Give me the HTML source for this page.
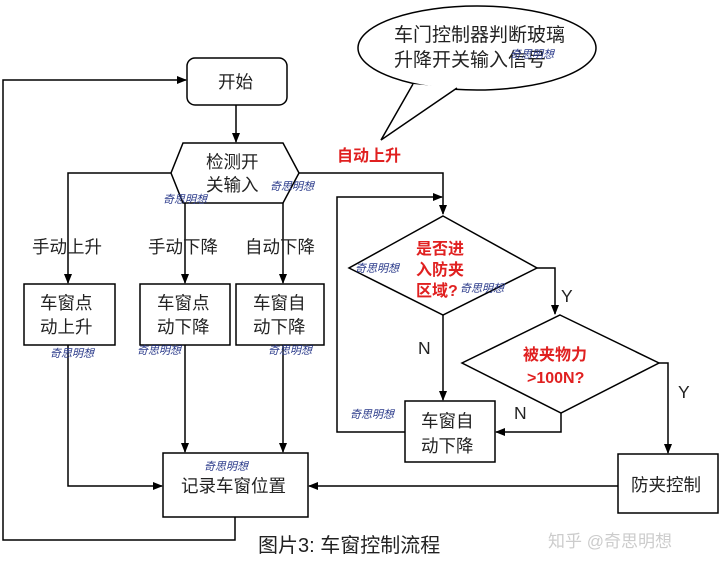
<!DOCTYPE html>
<html><head><meta charset="utf-8"><style>
html,body{margin:0;padding:0;background:#fff}
svg{display:block}
text{font-family:"Liberation Sans","Noto Sans CJK SC",sans-serif}
.t{font-size:17.5px;fill:#222}
.r{font-size:16px;fill:#e02020;font-weight:bold}
.w{font-size:11px;fill:#2a3a8a;font-style:italic}
</style></head><body>
<svg width="720" height="571" viewBox="0 0 720 571" xmlns="http://www.w3.org/2000/svg">
<defs><marker id="a" markerWidth="10" markerHeight="10" refX="9" refY="5" orient="auto" markerUnits="userSpaceOnUse"><path d="M0,1 L10,5 L0,9 z" fill="#000"/></marker></defs>
<g fill="none" stroke="#000" stroke-width="1.5">
<!-- bubble -->
<ellipse cx="477" cy="48" rx="119" ry="42" fill="#fff"/>
<polygon points="413,84 381,140 457,88" fill="#fff" stroke="none"/>
<polyline points="413,84 381,140 457,88"/>
<rect x="187" y="58" width="100" height="47" rx="8" fill="#fff"/>
<line x1="236" y1="105" x2="236" y2="142" marker-end="url(#a)"/>
<polygon points="183,143 283,143 299,173 283,203 183,203 171,173" fill="#fff"/>
<polyline points="171,173 68,173 68,283" marker-end="url(#a)"/>
<line x1="185" y1="203" x2="185" y2="283" marker-end="url(#a)"/>
<line x1="283" y1="203" x2="283" y2="283" marker-end="url(#a)"/>
<rect x="24" y="284" width="91" height="61"/>
<rect x="140" y="284" width="90" height="61"/>
<rect x="236" y="284" width="88" height="61"/>
<polyline points="299,173 443,173 443,214" marker-end="url(#a)"/>
<polyline points="405,432 337,432 337,197 442,197" marker-end="url(#a)"/>
<polygon points="443,216 537,268 443,315 349,268" fill="#fff"/>
<polyline points="537,268 555,268 555,314" marker-end="url(#a)"/>
<line x1="443" y1="315" x2="443" y2="400" marker-end="url(#a)"/>
<rect x="405" y="401" width="90" height="61"/>
<polygon points="560,315 659,363 561,413 462,363" fill="#fff"/>
<polyline points="561,413 561,432 496,432" marker-end="url(#a)"/>
<polyline points="659,363 668,363 668,453" marker-end="url(#a)"/>
<rect x="618" y="454" width="100" height="59"/>
<rect x="163" y="453" width="145" height="64"/>
<polyline points="68,345 68,486 162,486" marker-end="url(#a)"/>
<line x1="185" y1="345" x2="185" y2="452" marker-end="url(#a)"/>
<line x1="283" y1="345" x2="283" y2="452" marker-end="url(#a)"/>
<line x1="618" y1="486" x2="309" y2="486" marker-end="url(#a)"/>
<polyline points="235,517 235,540 3,540 3,80 186,80" marker-end="url(#a)"/>
</g>
<text class="t" x="394" y="41" style="font-size:19px">车门控制器判断玻璃</text>
<text class="t" x="394" y="66" style="font-size:19px">升降开关输入信号</text>
<text class="t" x="218" y="88">开始</text>
<text class="t" x="206" y="168">检测开</text>
<text class="t" x="206" y="191">关输入</text>
<text class="r" x="337" y="161">自动上升</text>
<text class="t" x="32" y="253">手动上升</text>
<text class="t" x="148" y="253">手动下降</text>
<text class="t" x="245" y="253">自动下降</text>
<text class="t" x="40" y="309">车窗点</text>
<text class="t" x="40" y="333">动上升</text>
<text class="t" x="157" y="309">车窗点</text>
<text class="t" x="157" y="333">动下降</text>
<text class="t" x="253" y="309">车窗自</text>
<text class="t" x="253" y="333">动下降</text>
<text class="r" x="416" y="254">是否进</text>
<text class="r" x="416" y="275">入防夹</text>
<text class="r" x="416" y="296">区域?</text>
<text class="t" x="561" y="302">Y</text>
<text class="t" x="418" y="354">N</text>
<text class="r" x="523" y="360">被夹物力</text>
<text class="r" x="527" y="383">&gt;100N?</text>
<text class="t" x="678" y="398">Y</text>
<text class="t" x="514" y="419">N</text>
<text class="t" x="421" y="427">车窗自</text>
<text class="t" x="421" y="452">动下降</text>
<text class="t" x="631" y="491">防夹控制</text>
<text class="t" x="181" y="492">记录车窗位置</text>
<text class="t" x="258" y="552" style="font-size:20px">图片3:  车窗控制流程</text>
<text x="548" y="547" style="font-size:17px;fill:#ccc">知乎 @奇思明想</text>
<text class="w" x="510" y="58">奇思明想</text>
<text class="w" x="163" y="203">奇思明想</text>
<text class="w" x="270" y="190">奇思明想</text>
<text class="w" x="50" y="357">奇思明想</text>
<text class="w" x="137" y="354">奇思明想</text>
<text class="w" x="268" y="354">奇思明想</text>
<text class="w" x="355" y="272">奇思明想</text>
<text class="w" x="460" y="292">奇思明想</text>
<text class="w" x="350" y="418">奇思明想</text>
<text class="w" x="204" y="470">奇思明想</text>
</svg>
</body></html>
